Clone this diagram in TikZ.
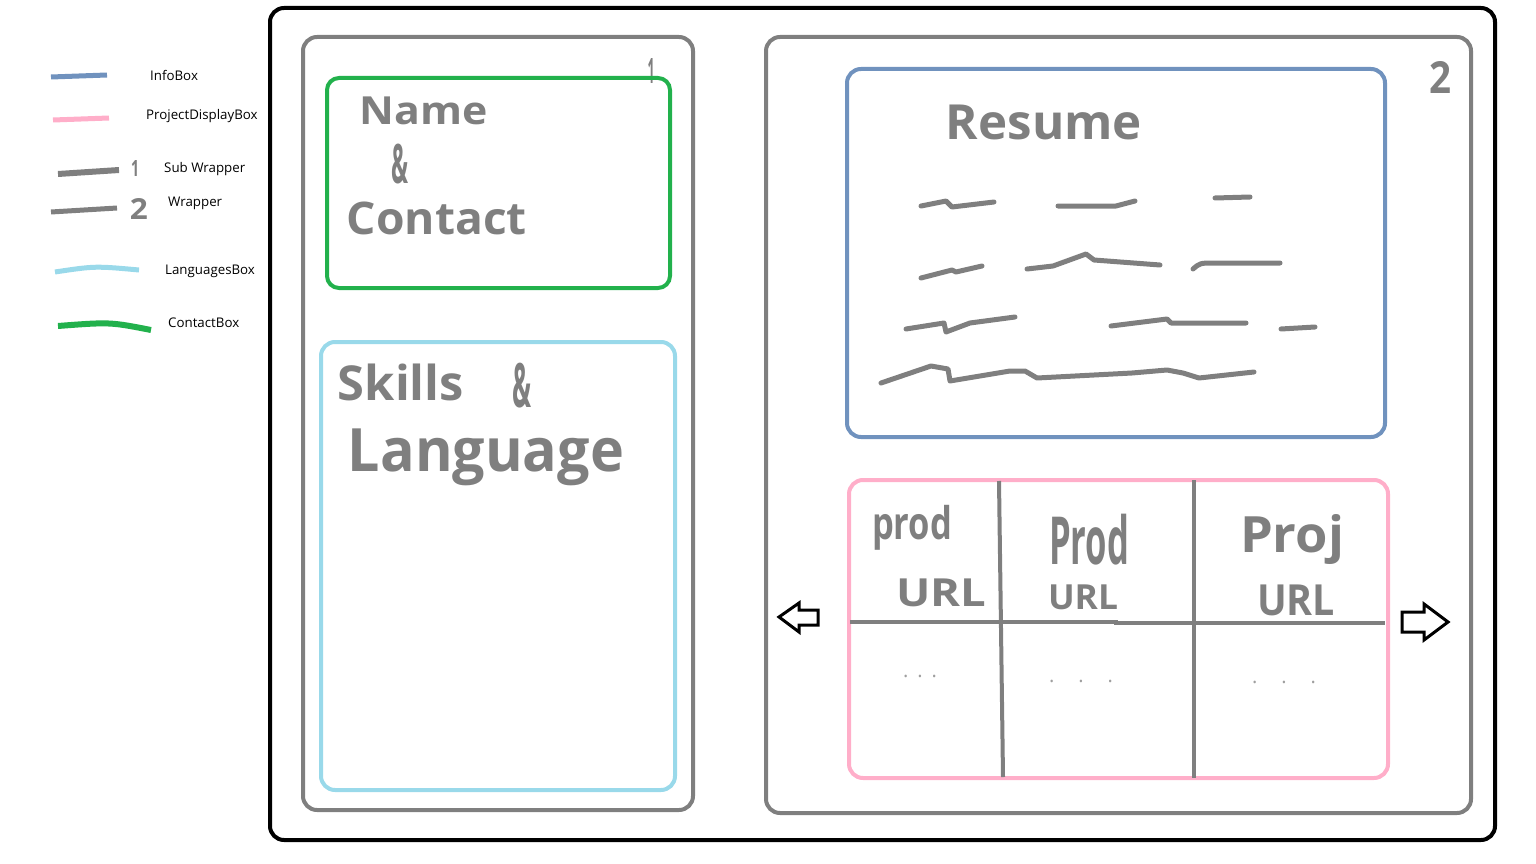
\documentclass[tikz,border=0pt]{standalone}
\usepackage{fontspec}
\setmainfont{Open Sans}
\usepackage{graphicx}
\usetikzlibrary{calc,positioning}
\definecolor{paintGray}{RGB}{127,127,127}
\definecolor{infoBlue}{RGB}{112,146,190}
\definecolor{projPink}{RGB}{255,174,201}
\definecolor{langBlue}{RGB}{153,217,234}
\definecolor{contactGreen}{RGB}{34,177,76}
% hand written words, squeezed to the size they have on the sketch
\newcommand{\Scrawl}[3]{\resizebox*{#1pt}{#2pt}{\bfseries #3}}

\tikzset{
  boxLine/.style={rounded corners=14pt,line width=4pt},
  scrawl/.style={paintGray,line width=5pt,line cap=round,line join=round},
  legendStroke/.style={line width=5pt},
  legendText/.style={anchor=base west,inner sep=0pt,font=\fontsize{13.3}{15}\selectfont},
  handText/.style={paintGray,inner sep=0pt},
  dotText/.style={paintGray!75,inner sep=0pt,font=\fontsize{20}{20}\selectfont},
  pageArrow/.style={draw=black,line width=3pt,line join=miter,fill=white},
}

\begin{document}
\begin{tikzpicture}[x=1pt,y=-1pt]
\useasboundingbox (0,0) rectangle (1536,864);

% legend
\draw[legendStroke,infoBlue] (51,77) -- (107,75);
\node[legendText] (lgInfo) at (150,81) {InfoBox};
\draw[legendStroke,projPink] (53,120) -- (109,118);
\node[legendText] (lgProj) at (146,120) {ProjectDisplayBox};
\draw[legendStroke,paintGray,line width=6pt] (58,174) -- (119,170);
\node[handText] (lgOne) at (135,168) {\Scrawl{8}{16}{1}};
\node[legendText] (lgSub) at (164,172) {Sub Wrapper};
\draw[legendStroke,paintGray] (51,212) -- (117,208);
\node[handText] (lgTwo) at (139,209) {\Scrawl{18}{21}{2}};
\node[legendText] (lgWrap) at (168,206) {Wrapper};
\draw[legendStroke,langBlue] (55,272) .. controls (95,266) .. (139,270);
\node[legendText] (lgLang) at (165,274) {LanguagesBox};
\draw[legendStroke,contactGreen,line width=6pt] (58,326) .. controls (110,322) .. (151,330);
\node[legendText] (lgContact) at (168,327) {ContactBox};

% wrappers
\draw[boxLine,black] (270,8) rectangle (1495,840);
\draw[boxLine,paintGray] (303,37) rectangle (693,810);
\draw[boxLine,paintGray] (766,37) rectangle (1471,813);
\node[handText] (subNum) at (651,71) {\Scrawl{7}{25}{1}};
\node[handText] (wrapNum) at (1440,77) {\Scrawl{22}{32}{2}};

% left column
\draw[boxLine,contactGreen,rounded corners=12pt] (327,78) rectangle (670,288);
\node[handText] (nameTxt) at (424,111) {\Scrawl{128}{28}{Name}};
\node[handText] (ampTxt) at (400,164) {\Scrawl{17}{40}{\&}};
\node[handText] (contactTxt) at (437,218) {\Scrawl{180}{33}{Contact}};

\draw[boxLine,langBlue] (321,342) rectangle (675,790);
\node[handText] (skillsTxt) at (401,382) {\Scrawl{126}{37}{Skills}};
\node[handText] (ampTwoTxt) at (522,386) {\Scrawl{19}{45}{\&}};
\node[handText] (langTxt) at (486,457) {\Scrawl{276}{57}{Language}};

% resume box
\draw[boxLine,infoBlue] (847,69) rectangle (1385,437);
\node[handText] (resumeTxt) at (1044,122) {\Scrawl{196}{35}{Resume}};
\draw[scrawl] (921,206) -- (946,201) -- (952,207) -- (994,202);
\draw[scrawl] (1058,206) -- (1116,206) -- (1135,201);
\draw[scrawl] (1215,198) -- (1250,197);
\draw[scrawl] (921,278) -- (952,270) -- (956,272) -- (982,266);
\draw[scrawl] (1027,269) -- (1053,266) -- (1086,254) -- (1094,260) -- (1160,265);
\draw[scrawl] (1193,269) .. controls (1200,263) .. (1215,263) -- (1280,263);
\draw[scrawl] (906,329) -- (944,323) -- (946,332) -- (970,323) -- (1015,317);
\draw[scrawl] (1111,326) -- (1167,319) -- (1171,323) -- (1246,323);
\draw[scrawl] (1281,329) -- (1315,327);
\draw[scrawl] (881,383) -- (931,366) -- (948,369) -- (950,381) -- (1010,371)
  -- (1025,371) -- (1037,378) -- (1132,373) -- (1167,370) -- (1183,373)
  -- (1199,378) -- (1254,372);

% project display box
\draw[boxLine,projPink] (849,480) rectangle (1388,778);
\draw[paintGray,line width=4pt] (999,481) -- (1003,777);
\draw[paintGray,line width=4pt] (1194,480) -- (1194,778);
\draw[paintGray,line width=4pt] (850,622) -- (1116,622) -- (1116,623) -- (1385,623);
\node[handText] (projA) at (912,528) {\Scrawl{80}{45}{prod}};
\node[handText] (urlA) at (941,593) {\Scrawl{90}{28}{URL}};
\node[handText] (projB) at (1089,540) {\Scrawl{80}{51}{Prod}};
\node[handText] (urlB) at (1083,597) {\Scrawl{70}{25}{URL}};
\node[handText] (projC) at (1292,540) {\Scrawl{104}{50}{Proj}};
\node[handText] (urlC) at (1296,600) {\Scrawl{78}{31}{URL}};
\node[dotText] (moreA) at (920,676) {.\hspace{9pt}.\hspace{9pt}.};
\node[dotText] (moreB) at (1081,681) {.\hspace{24pt}.\hspace{24pt}.};
\node[dotText] (moreC) at (1284,682) {.\hspace{24pt}.\hspace{24pt}.};

% paging arrows
\draw[pageArrow] (779,617) -- (799,603) -- (799,610) -- (818,610) -- (818,625)
  -- (799,625) -- (799,632) -- cycle;
\draw[pageArrow] (1448,622) -- (1424,604) -- (1424,612) -- (1402,612) -- (1402,632)
  -- (1424,632) -- (1424,640) -- cycle;
\end{tikzpicture}
\end{document}
